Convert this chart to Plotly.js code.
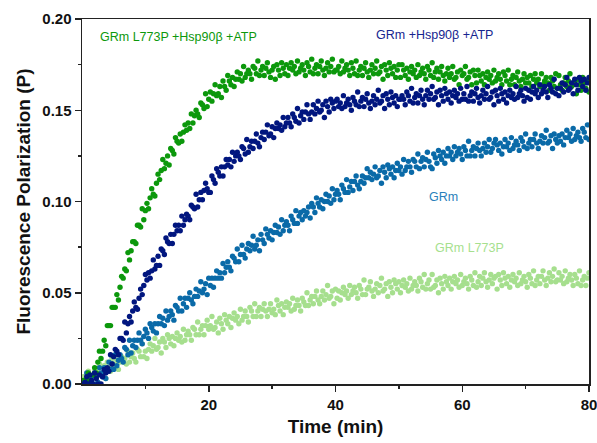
<!DOCTYPE html>
<html>
<head>
<meta charset="utf-8">
<script src="https://cdn.plot.ly/plotly-3.0.1.min.js"></script>
<style>
html,body{margin:0;padding:0;background:#fff;}
#chart{width:597px;height:443px;}
</style>
</head>
<body>
<div id="chart"></div>
<script>
// Reads every 0.25 min; polarization values in mP (milli-polarization units)
const sampleStepMin = 0.25;

// GRm L773P +Hsp90β +ATP (mP)
const grmL773pHsp_mP = [
2,0,2,6,2,0,5,9,6,12,18,14,18,24,21,32,32,32,42,42,
42,49,46,53,59,58,63,62,72,68,73,78,78,77,87,87,86,96,90,95,
99,96,102,107,104,103,110,115,112,117,123,118,121,125,120,129,128,126,135,133,
132,137,133,138,142,139,143,140,148,143,147,150,148,146,154,153,151,159,152,156,
160,155,159,164,158,159,163,157,166,163,161,169,166,164,168,163,167,171,167,170,
166,174,168,170,172,170,167,174,173,170,177,169,172,174,169,173,176,171,168,172,
174,167,175,172,169,176,173,170,175,169,173,176,172,174,170,177,171,173,175,172,
169,176,174,171,178,170,173,175,170,174,177,172,169,173,176,171,174,178,171,172,
172,174,170,177,171,173,175,172,169,176,173,170,177,169,172,174,169,173,176,171,
168,172,175,170,173,177,170,171,174,167,175,172,169,176,173,170,174,168,172,175,
168,175,172,169,173,167,171,174,170,172,168,175,169,171,173,170,167,174,172,169,
176,168,171,173,167,171,174,169,166,170,173,168,170,174,167,168,171,164,172,169,
170,174,167,168,171,164,172,169,165,172,169,166,170,164,168,171,167,169,165,172,
166,168,170,167,164,171,169,166,172,164,167,169,164,168,171,166,163,167,170,165,
168,165,169,163,167,170,165,167,163,170,164,166,168,165,161,168,166,163,170,162,
169,164,161,165,168,163,166,170,163,164,166,159,167,164,161,168,165,162,166,160
];

// GRm +Hsp90β +ATP (mP)
const grmHsp_mP = [
0,1,4,0,5,2,0,6,3,0,5,0,4,8,6,9,7,16,11,15,
19,18,16,25,25,24,34,28,33,37,34,40,45,42,41,47,52,49,54,60,
57,61,58,62,68,63,65,70,65,74,73,71,80,78,77,82,77,82,87,84,
87,84,92,87,90,93,92,90,98,97,96,104,97,101,105,101,106,110,107,105,
105,114,112,110,118,116,114,119,114,119,123,120,123,119,127,122,125,127,125,123,
130,129,126,134,127,130,133,129,133,137,132,130,135,138,134,138,142,136,137,141,
135,140,143,140,142,139,146,141,143,146,143,141,148,146,144,151,143,147,149,145,
149,153,148,145,149,153,148,151,155,149,150,153,146,155,152,149,156,154,151,155,
156,152,154,151,158,152,154,156,153,150,157,155,153,160,152,155,157,152,156,159,
154,151,155,158,153,156,161,154,155,158,151,159,156,153,160,157,154,158,152,156,
156,158,156,153,160,158,155,162,154,157,159,154,158,161,156,153,158,161,156,159,
163,156,157,160,153,161,158,155,162,159,156,160,154,158,161,157,159,155,162,156,
159,156,163,155,158,160,155,159,162,157,154,158,161,156,159,163,156,157,160,153,
161,158,155,162,159,156,160,154,158,161,157,159,156,163,157,159,161,158,155,162,
157,161,156,160,163,159,161,157,164,159,161,163,160,157,164,162,160,167,159,162,
158,162,165,160,164,168,161,162,165,159,167,164,161,168,166,163,167,161,165,168
];

// GRm (mP)
const grm_mP = [
0,2,6,0,1,4,0,6,4,1,9,6,4,9,3,8,12,8,11,8,
16,10,13,16,14,12,20,19,16,24,17,21,24,20,24,28,24,22,26,30,
28,25,33,31,29,33,28,33,37,33,36,32,40,35,37,40,38,35,43,42,
40,47,40,44,47,42,47,50,46,44,48,52,48,51,56,50,52,55,49,58,
54,58,53,58,62,58,61,58,66,61,64,67,64,62,70,69,67,74,67,71,
76,71,69,74,77,73,76,81,74,76,79,73,82,79,77,85,82,80,84,79,
83,87,83,86,82,90,84,87,89,87,84,92,90,88,95,88,92,94,90,95,
92,94,97,91,99,97,94,102,99,97,101,96,100,104,100,103,99,107,101,104,
106,104,101,109,107,105,112,105,108,111,106,111,114,109,107,111,114,110,113,118,
113,116,112,115,119,113,114,117,110,119,116,113,120,118,115,119,113,117,121,117,
119,115,123,117,119,122,119,116,123,122,119,126,118,122,124,119,123,127,122,119,
118,126,124,121,128,125,123,127,121,125,129,125,127,123,130,125,127,129,126,123,
130,128,125,133,125,128,130,125,129,132,128,125,129,132,127,130,134,127,129,132,
134,131,128,132,126,130,134,130,132,128,135,129,131,133,131,128,135,133,130,137,
129,132,134,130,134,137,132,129,133,136,132,135,139,132,133,136,129,137,134,132,
136,133,137,131,135,139,135,137,133,140,134,136,138,135,133,140,138,135,142,134
];

// GRm L773P (mP)
const grmL773p_mP = [
4,0,4,7,3,0,5,8,3,7,11,5,6,10,3,12,9,7,14,11,
9,13,8,12,15,12,14,11,18,12,15,17,14,12,19,18,15,22,15,18,
14,19,22,18,21,25,19,20,23,17,25,23,20,27,25,22,26,21,25,28,
24,26,23,30,24,27,29,27,24,31,30,27,34,27,30,32,27,32,35,30,
32,37,30,31,34,28,36,33,30,38,35,33,37,31,36,39,35,37,33,41,
35,37,40,37,34,42,40,37,44,37,40,42,37,41,44,40,37,41,44,39,
41,38,46,43,40,44,38,42,45,42,44,40,47,41,43,46,43,40,47,45,
43,50,43,46,48,44,48,51,46,44,48,51,46,49,54,47,48,51,44,52,
47,51,46,50,53,49,51,47,54,49,51,53,50,47,54,52,49,57,49,52,
53,56,51,48,52,55,50,54,58,51,52,55,48,56,53,50,57,55,52,56,
50,54,57,53,55,51,58,52,54,56,54,51,58,56,53,60,52,55,57,52,
60,53,54,57,50,58,55,52,59,56,54,58,52,56,59,55,57,53,60,54,
56,58,55,52,59,57,54,61,53,56,59,54,58,61,56,53,57,60,55,58,
59,52,60,57,54,61,58,55,59,53,57,60,56,58,54,61,55,57,59,56,
53,60,58,55,62,54,57,59,55,59,62,57,54,58,61,56,59,63,56,57,
61,57,59,55,62,56,58,60,57,54,60,58,55,62,54,57,59,54,58,61
];

const seriesNames = ['GRm L773P', 'GRm', 'GRm L773P +Hsp90β +ATP', 'GRm +Hsp90β +ATP'];
const xTickVals = [20, 40, 60, 80];
const xTickText = ['20', '40', '60', '80'];
const xMinorVals = [10, 30, 50, 70];
const yTickVals = [0, 0.05, 0.10, 0.15, 0.20];
const yTickText = ['0.00', '0.05', '0.10', '0.15', '0.20'];
const yMinorVals = [0.025, 0.075, 0.125, 0.175];

const timeMin = grm_mP.map((_, i) => +(sampleStepMin * (i + 1)).toFixed(2));
const toP = arr => arr.map(v => v / 1000);

const colors = {
  lightGreen: '#a6df8e',
  blue: '#0a6aa8',
  green: '#0c980c',
  navy: '#01167f'
};

function mk(y, name, color) {
  return {
    x: timeMin, y: toP(y), name: name, type: 'scatter', mode: 'markers',
    marker: {size: 5.4, color: color, line: {width: 0}},
    hoverinfo: 'x+y+name'
  };
}

const data = [
  mk(grmL773p_mP, seriesNames[0], colors.lightGreen),
  mk(grm_mP, seriesNames[1], colors.blue),
  mk(grmL773pHsp_mP, seriesNames[2], colors.green),
  mk(grmHsp_mP, seriesNames[3], colors.navy)
];

const font = "Arial, 'Liberation Sans', sans-serif";

const layout = {
  width: 597, height: 443,
  margin: {l: 82, r: 8, t: 19, b: 59, pad: 0},
  paper_bgcolor: '#fff', plot_bgcolor: '#fff',
  showlegend: false,
  font: {family: font, color: '#111'},
  xaxis: {
    range: [0, 80], tickmode: 'array', tickvals: xTickVals, ticktext: xTickText,
    ticks: 'outside', ticklen: 6, tickwidth: 1.5, tickcolor: '#222',
    ticklabeloverflow: 'allow',
    minor: {tickmode: 'array', tickvals: xMinorVals, ticks: 'outside', ticklen: 3, tickwidth: 1.5, tickcolor: '#222'},
    showline: true, linecolor: '#222', linewidth: 1.5, mirror: true,
    showgrid: false, zeroline: false,
    tickfont: {family: font, size: 15, color: '#111', weight: 'bold'},
    title: {text: '<b>Time (min)</b>', font: {family: font, size: 19, color: '#111'}, standoff: 8}
  },
  yaxis: {
    range: [0, 0.2], tickmode: 'array', tickvals: yTickVals, ticktext: yTickText,
    ticks: 'outside', ticklen: 6, tickwidth: 1.5, tickcolor: '#222',
    minor: {tickmode: 'array', tickvals: yMinorVals, ticks: 'outside', ticklen: 3, tickwidth: 1.5, tickcolor: '#222'},
    showline: true, linecolor: '#222', linewidth: 1.5, mirror: true,
    showgrid: false, zeroline: false,
    tickfont: {family: font, size: 15, color: '#111', weight: 'bold'},
    title: {text: '<b>Fluorescence Polarization (P)</b>', font: {family: font, size: 19, color: '#111'}, standoff: 6}
  },
  annotations: [
    {x: 15.3, y: 0.190, xref: 'x', yref: 'y', text: 'GRm L773P +Hsp90β +ATP', showarrow: false,
     font: {family: font, size: 12.5, color: colors.green}},
    {x: 55.6, y: 0.1915, xref: 'x', yref: 'y', text: 'GRm +Hsp90β +ATP', showarrow: false,
     font: {family: font, size: 12.5, color: '#16258f'}},
    {x: 57.0, y: 0.1025, xref: 'x', yref: 'y', text: 'GRm', showarrow: false,
     font: {family: font, size: 12.5, color: '#2a7fbb'}},
    {x: 61.2, y: 0.0745, xref: 'x', yref: 'y', text: 'GRm L773P', showarrow: false,
     font: {family: font, size: 12.5, color: '#a6df8e'}}
  ]
};

Plotly.newPlot('chart', data, layout, {displayModeBar: false, staticPlot: true});
</script>
</body>
</html>
